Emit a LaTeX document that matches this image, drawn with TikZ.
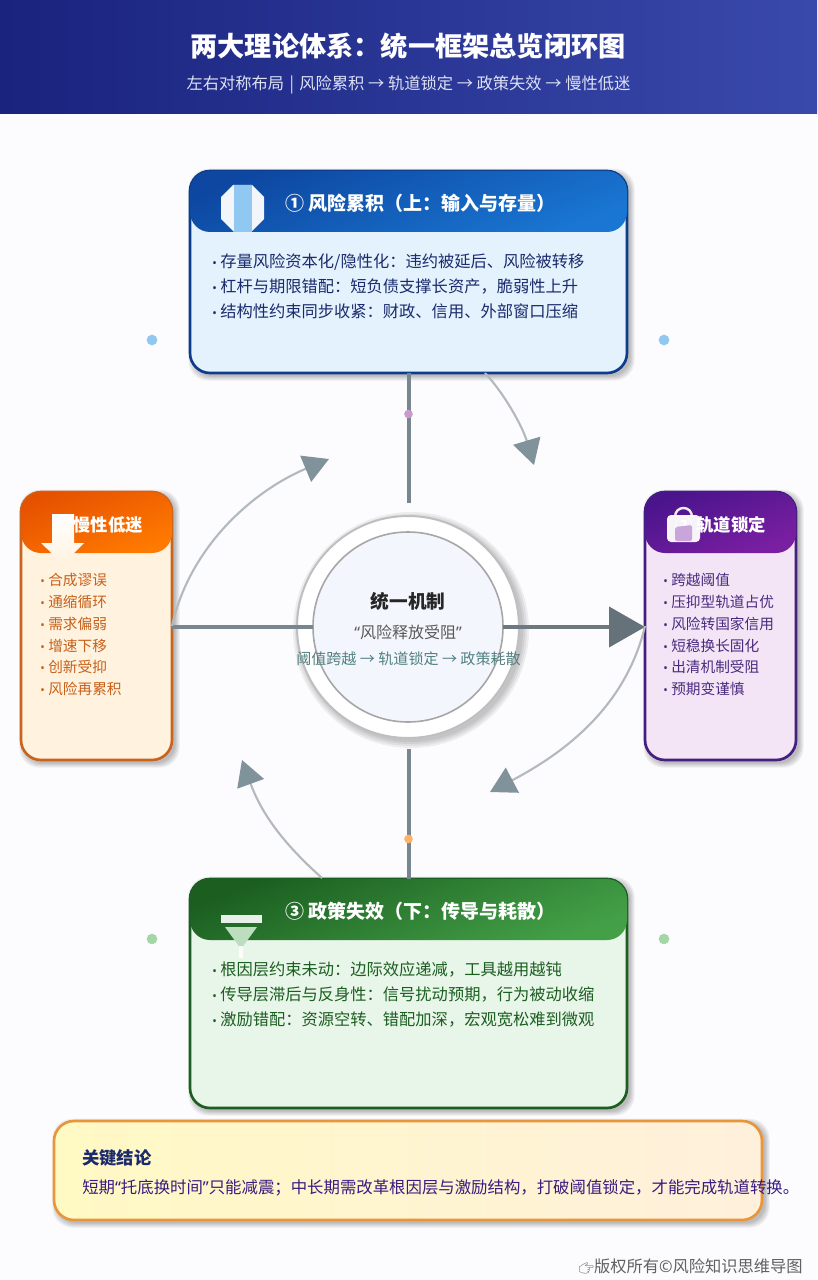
\documentclass[tikz,border=0pt]{standalone}
\usepackage{fontspec}
\setmainfont{Noto Sans CJK SC}
\newfontfamily\latf{Noto Sans}
\newfontfamily\emof{Noto Emoji}
\usetikzlibrary{arrows.meta,calc}
\definecolor{bgpage}{HTML}{FCFCFF}
\definecolor{linegray}{HTML}{78868F}
\definecolor{curvegray}{HTML}{B4B9BD}
\definecolor{tipgray}{HTML}{80929A}
\definecolor{bandA}{HTML}{1A237E}
\definecolor{bandB}{HTML}{3949AB}
\definecolor{subtx}{HTML}{DDE2F5}
\definecolor{dotblue}{HTML}{90C8F2}
\definecolor{dotgreen}{HTML}{A5D6A7}
\definecolor{keyedge}{HTML}{E8963C}
\newcommand{\bul}{\makebox[6pt][l]{\latf\fontsize{9}{9}\selectfont •}}
\newcommand{\softshadow}[6]{%
  \foreach \g in {0,1,2,3,4}{
    \fill[#6,opacity=.055,rounded corners=#5pt]
      ($(#1)+(2pt-\g*.8pt,-1.5pt+\g*.8pt)$) rectangle ($(#2)+(2.5pt+\g*.8pt,-2.5pt-\g*.8pt)$);
  }}
\tikzset{
  x=.75pt,y=-.75pt,
  cardbox/.style={draw,line width=2pt,rounded corners=15pt,inner sep=0pt,outer sep=0pt},
  headband/.style={rounded corners=15pt,shading angle=22},
  headtext/.style={text=white,inner sep=0pt,font=\bfseries\fontsize{14.25}{16}\selectfont},
  biglist/.style={inner sep=0pt,anchor=north west,align=left,font=\fontsize{12.2}{18.75}\selectfont},
  smalllist/.style={inner sep=0pt,anchor=north west,align=left,font=\fontsize{11}{16.35}\selectfont},
  axisline/.style={linegray,line width=3pt},
  flowcurve/.style={curvegray,line width=1.6pt,-{Triangle[length=19pt,width=21pt,color=tipgray,fill=tipgray]}},
  cdot/.style={circle,inner sep=0pt,minimum size=8pt},
  sdot/.style={circle,inner sep=0pt,minimum size=6.5pt},
  plaintext/.style={inner sep=0pt}
}
\begin{document}
\begin{tikzpicture}
\useasboundingbox (0,0) rectangle (817,1280);
\fill[bgpage] (0,0) rectangle (817,1280);
\shade[left color=bandA,right color=bandB] (0,0) rectangle (817,114);
\node[plaintext,text=white,font=\bfseries\fontsize{20.4}{24}\selectfont] (title) at (408,46) {两大理论体系：统一框架总览闭环图};
\node[plaintext,text=subtx,font=\fontsize{12.2}{15}\selectfont] (subtitle) at (408.5,85) {左右对称布局\,\,|\,\,风险累积 → 轨道锁定 → 政策失效 → 慢性低迷};

% decorative dots
\node[cdot,fill=dotblue] (d1) at (152,340) {};
\node[cdot,fill=dotblue] (d2) at (664,340) {};
\node[cdot,fill=dotgreen] (d3) at (152,939) {};
\node[cdot,fill=dotgreen] (d4) at (664,939) {};

% shadows
\softshadow{190,171}{627,373}{0}{0}{15}{black}
\softshadow{21,492}{172,760}{0}{0}{15}{black}
\softshadow{645,492}{796,760}{0}{0}{15}{black}
\softshadow{190,879}{627,1108}{0}{0}{15}{black}
\softshadow{54,1121}{762,1220}{0}{0}{15}{black}

% cards
\definecolor{cardA}{HTML}{E3F2FD}\definecolor{edgeA}{HTML}{0D3C8A}
\definecolor{cardB}{HTML}{F3E5F5}\definecolor{edgeB}{HTML}{43207F}
\definecolor{cardC}{HTML}{E8F5E9}\definecolor{edgeC}{HTML}{1B5E20}
\definecolor{cardD}{HTML}{FFF3E0}\definecolor{edgeD}{HTML}{C9641F}
\definecolor{hA}{HTML}{0D47A1}\definecolor{hA2}{HTML}{1976D2}
\definecolor{hB}{HTML}{4A148C}\definecolor{hB2}{HTML}{7B1FA2}
\definecolor{hC}{HTML}{1B5E20}\definecolor{hC2}{HTML}{43A047}
\definecolor{hD}{HTML}{E65100}\definecolor{hD2}{HTML}{FF7A00}
\node[cardbox,fill=cardA,draw=edgeA,minimum width=327.75pt,minimum height=151.5pt] (top) at (408.5,272) {};
\node[cardbox,fill=cardD,draw=edgeD,minimum width=113.25pt,minimum height=201pt] (left) at (96.5,626) {};
\node[cardbox,fill=cardB,draw=edgeB,minimum width=113.25pt,minimum height=201pt] (right) at (720.5,626) {};
\node[cardbox,fill=cardC,draw=edgeC,minimum width=327.75pt,minimum height=171.75pt] (bottom) at (408.5,993.5) {};

% header bands
\shade[headband,top color=hA,bottom color=hA2,shading angle=22] (190,171) rectangle (627,232);
\shade[headband,top color=hD,bottom color=hD2,shading angle=22] (21,492) rectangle (172,553);
\shade[headband,top color=hB,bottom color=hB2,shading angle=22] (645,492) rectangle (796,553);
\shade[headband,top color=hC,bottom color=hC2,shading angle=22] (190,879) rectangle (627,940);

% header text
\node[headtext,anchor=west] (topHead) at (285,203) {① 风险累积（上：输入与存量）};
\node[headtext,anchor=east,font=\bfseries\fontsize{13}{16}\selectfont] (leftHead) at (143,525) {④ 慢性低迷};
\node[headtext,anchor=east,font=\bfseries\fontsize{13}{16}\selectfont] (rightHead) at (766,525) {② 轨道锁定};
\node[headtext,anchor=west] (bottomHead) at (285,911) {③ 政策失效（下：传导与耗散）};

% lists
\definecolor{txA}{HTML}{1A2A6C}\definecolor{txB}{HTML}{4A2A80}
\definecolor{txC}{HTML}{1B5E20}\definecolor{txD}{HTML}{C8601A}
\node[biglist,text=txA] (topList) at (212,253) {\bul 存量风险资本化/隐性化：违约被延后、风险被转移\\\bul 杠杆与期限错配：短负债支撑长资产，脆弱性上升\\\bul 结构性约束同步收紧：财政、信用、外部窗口压缩};
\node[biglist,text=txC] (bottomList) at (212,961) {\bul 根因层约束未动：边际效应递减，工具越用越钝\\\bul 传导层滞后与反身性：信号扰动预期，行为被动收缩\\\bul 激励错配：资源空转、错配加深，宏观宽松难到微观};
\node[smalllist,text=txD] (leftList) at (40,573) {\bul 合成谬误\\\bul 通缩循环\\\bul 需求偏弱\\\bul 增速下移\\\bul 创新受抑\\\bul 风险再累积};
\node[smalllist,text=txB] (rightList) at (663,573) {\bul 跨越阈值\\\bul 压抑型轨道占优\\\bul 风险转国家信用\\\bul 短稳换长固化\\\bul 出清机制受阻\\\bul 预期变谨慎};

% icons
\fill[white,opacity=.95] (233,185) -- (252,185) -- (264,197) -- (264,219) -- (251,232) -- (234,232) -- (221,219) -- (221,197) -- cycle;
\fill[dotblue] (234,185) rectangle (252,232);
\shade[top color=white,bottom color=cardD] (52,514) -- (74,514) -- (74,543) -- (84,543) -- (63,564) -- (41,543) -- (52,543) -- cycle;
\draw[white!92!black,line width=1.8pt] (675,517) .. controls (675,505) and (692,505) .. (692,517);
\fill[white,opacity=.95,rounded corners=3pt] (667,515) rectangle (700,542);
\fill[hB2!40!white,rounded corners=1.5pt] (675,527) -- (692,525) -- (692,541) -- (675,541) -- cycle;
\fill[white,opacity=.9] (221,915) rectangle (262,923);
\fill[hC2!35!white] (225,927) -- (257,927) -- (241,949) -- cycle;
\fill[white,opacity=.8] (239,946) rectangle (243,958);

% centre
\foreach \r in {118,116,114,112}{\fill[black,opacity=.06] (411,630) circle[radius=\r];}
\definecolor{coreFill}{HTML}{F3F7FD}
\node[circle,draw=gray!50,fill=white,line width=1.5pt,minimum size=166.5pt,inner sep=0pt,outer sep=0pt] (coreOuter) at (408,627) {};
\node[circle,draw=gray!70,fill=coreFill,line width=1.2pt,minimum size=142.5pt,inner sep=0pt,outer sep=0pt] (coreInner) at (408,627) {};

% connectors
\coordinate (vtEnd) at (408.5,503);
\coordinate (vbEnd) at (408.5,749);
\draw[axisline] (top.south) -- (vtEnd);
\draw[axisline] (vbEnd) -- (bottom.north);
\draw[axisline] (left.east |- coreInner.west) -- (coreInner.west);
\draw[linegray!90!black,line width=3pt,-{Triangle[length=27pt,width=30pt,color=linegray!85!black,fill=linegray!85!black]}] (coreInner.east) -- (coreInner.east -| right.west);
\coordinate (c1s) at (485,373);\coordinate (c1e) at (534,465);
\coordinate (c2e) at (329,459);
\coordinate (c3e) at (490,792);
\coordinate (c4s) at (322,878);\coordinate (c4e) at (242,760);
\draw[flowcurve] (c1s) .. controls (503,392) and (522,425) .. (c1e);
\draw[flowcurve] (left.east) .. controls (190,545) and (255,490) .. (c2e);
\draw[flowcurve] (right.west) .. controls (625,710) and (560,755) .. (c3e);
\draw[flowcurve] (c4s) .. controls (285,845) and (262,815) .. (c4e);
\node[sdot,fill=violet!40!white] (m1) at (408.5,414) {};
\node[sdot,fill=orange!60!white] (m2) at (408.5,839) {};

% centre text
\node[plaintext,text=black!85,font=\bfseries\fontsize{14}{16}\selectfont] (coreTitle) at (408,601) {统一机制};
\node[plaintext,text=black!65,font=\fontsize{12}{15}\selectfont] (coreSub) at (408,632) {{\latf “}风险释放受阻{\latf ”}};
\node[plaintext,text=teal!35!gray,font=\fontsize{11.3}{14}\selectfont] (coreNote) at (408.5,659) {阈值跨越 → 轨道锁定 → 政策耗散};

% conclusion
\definecolor{keyA}{HTML}{FFF9C4}\definecolor{keyB}{HTML}{FFF0DC}
\node[cardbox,draw=keyedge,left color=keyA,right color=keyB,minimum width=531pt,minimum height=74.25pt] (key) at (408,1170.5) {};
\node[plaintext,anchor=west,text=txA,font=\bfseries\fontsize{13}{16}\selectfont] (keyTitle) at (82,1158) {关键结论};
\node[plaintext,anchor=west,text=hB!65!txA,font=\fontsize{12.3}{15}\selectfont] (keyText) at (82,1188) {短期{\latf “}托底换时间{\latf ”}只能减震；中长期需改革根因层与激励结构，打破阈值锁定，才能完成轨道转换。};
\node[plaintext,anchor=east,text=black!62,font=\fontsize{12.2}{15}\selectfont] (copy) at (803,1266) {{\emof\fontsize{9}{10}\selectfont 👉}版权所有{\latf ©}风险知识思维导图};
\end{tikzpicture}
\end{document}
